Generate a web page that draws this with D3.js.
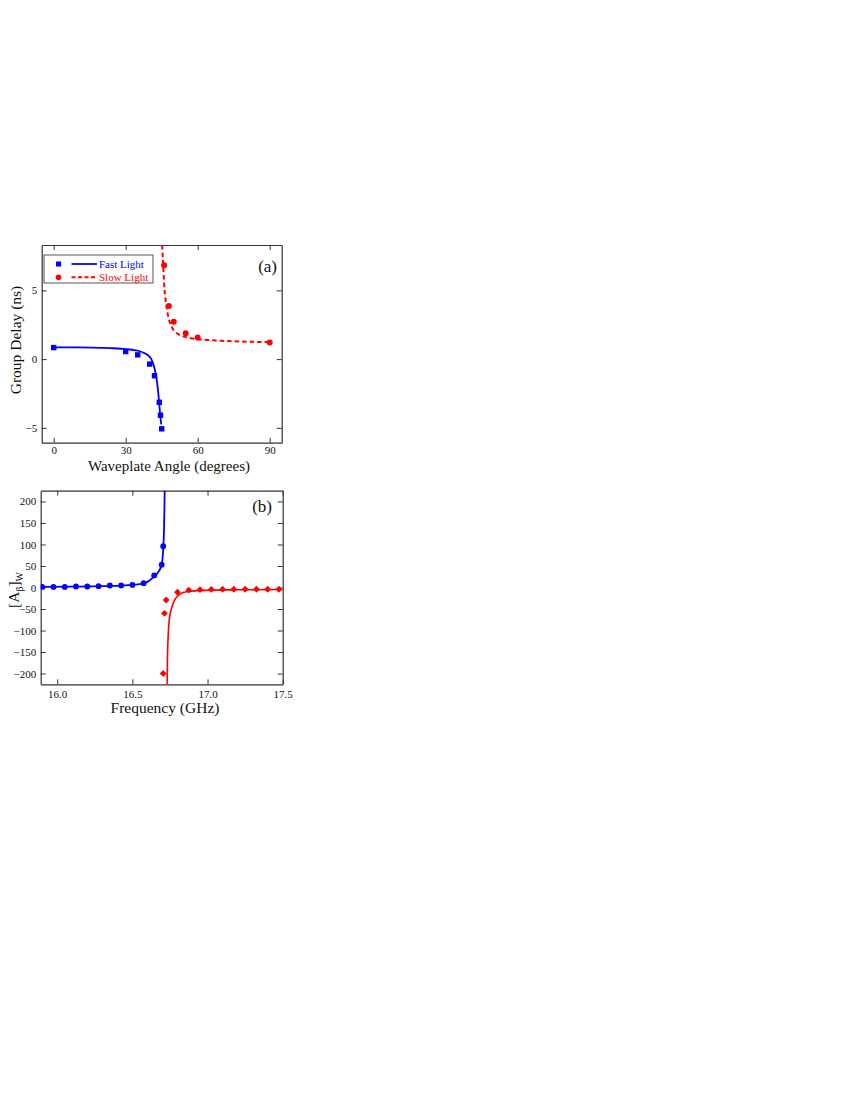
<!DOCTYPE html>
<html>
<head>
<meta charset="utf-8">
<script src="https://cdn.jsdelivr.net/npm/d3@7"></script>
<style>
  body { margin: 0; background: #fff; }
  svg { display: block; font-family: "Liberation Serif", "Times New Roman", serif; }
</style>
</head>
<body>
<svg id="chart" width="850" height="1100"></svg>
<script>
// Panel (a) data
const fastAngle = [0, 30, 35, 40, 42, 44, 44.5, 45]
const fastDelay = [0.84, 0.55, 0.31, -0.36, -1.21, -3.14, -4.08, -5.07]
const slowAngle = [46, 48, 50, 55, 60, 90]
const slowDelay = [6.83, 3.86, 2.72, 1.88, 1.57, 1.20]
const fastFitAngle = [0, 10, 20, 25, 30, 34, 37, 39, 40.5, 41.5, 42.3, 43, 43.6, 44, 44.4, 44.8]
const fastFitDelay = [0.86, 0.85, 0.82, 0.79, 0.73, 0.64, 0.5, 0.32, 0.05, -0.35, -0.9, -1.6, -2.5, -3.3, -4.1, -4.75]
const slowFitAngle = [45.2, 45.5, 45.8, 46.2, 46.7, 47.3, 48, 49, 50, 52, 54, 57, 60, 65, 70, 80, 90]
const slowFitDelay = [8.3, 7.2, 6.2, 5.0, 4.2, 3.5, 2.9, 2.4, 2.1, 1.8, 1.65, 1.52, 1.45, 1.38, 1.33, 1.27, 1.24]
const angleTicks = [0, 30, 60, 90]
const delayTicks = [-5, 0, 5]

// Panel (b) data
const blueFreq = [15.9, 15.975, 16.05, 16.125, 16.2, 16.275, 16.35, 16.425, 16.5, 16.575, 16.645, 16.695, 16.705]
const blueA = [1.4, 1.4, 1.4, 2.3, 2.3, 3, 4.7, 4.7, 6, 10, 28, 53, 96]
const redFreq = [16.705, 16.713, 16.725, 16.8, 16.875, 16.95, 17.025, 17.1, 17.175, 17.25, 17.325, 17.4, 17.475]
const redA = [-200, -60, -29, -11, -6, -5, -4.5, -4, -4, -4, -4, -4, -4]
const blueFitFreq = [15.9, 16.1, 16.3, 16.45, 16.55, 16.6, 16.64, 16.67, 16.69, 16.7, 16.705, 16.71, 16.713, 16.715]
const blueFitA = [1.5, 2, 3, 5, 8, 13, 24, 35, 48, 65, 90, 130, 180, 230]
const redFitFreq = [16.731, 16.733, 16.736, 16.745, 16.76, 16.78, 16.8, 16.83, 16.87, 16.95, 17.05, 17.2, 17.5]
const redFitA = [-230, -170, -130, -76, -49, -30, -20, -13, -9.5, -7, -6, -5.3, -4.8]
const freqTicks = [16.0, 16.5, 17.0, 17.5]
const aTicks = [-200, -150, -100, -50, 0, 50, 100, 150, 200]

const BLUE = "#0000ff"
const RED = "#ff0000"
const AXIS = "#333"

const svg = d3.select("#chart")
svg.append("rect").attr("width", 850).attr("height", 1100).attr("fill", "#fff")

function zip(xs, ys) { return xs.map((x, i) => [x, ys[i]]) }

function frame(g, x, y, xTicks, yTicks, xFmt, id, xPad) {
  const [x0, x1] = x.range()
  const [y0, y1] = y.range()
  g.append("clipPath").attr("id", id)
    .append("rect").attr("x", x0).attr("y", y1).attr("width", x1 - x0).attr("height", y0 - y1)

  const axes = [
    [d3.axisBottom(x).tickValues(xTicks).tickFormat(xFmt).tickPadding(xPad), `translate(0,${y0})`],
    [d3.axisTop(x).tickValues(xTicks).tickFormat(""), `translate(0,${y1})`],
    [d3.axisLeft(y).tickValues(yTicks).tickPadding(4.5), `translate(${x0},0)`],
    [d3.axisRight(y).tickValues(yTicks).tickFormat(""), `translate(${x1},0)`]
  ]
  axes.forEach(([ax, tr]) => {
    const a = g.append("g").attr("transform", tr)
      .call(ax.tickSizeInner(-5).tickSizeOuter(0))
    a.select(".domain").attr("stroke", AXIS).attr("stroke-width", 1.2)
    a.selectAll(".tick line").attr("stroke", AXIS).attr("stroke-width", 1)
    a.selectAll("text").attr("fill", "#111").attr("font-size", 11)
      .attr("font-family", "Liberation Serif, Times New Roman, serif")
  })
}

// ---------- Panel (a) ----------
const xa = d3.scaleLinear().domain([-5, 95]).range([41.7, 281.7])
const ya = d3.scaleLinear().domain([-6.08, 8.3]).range([442.7, 245])
const ga = svg.append("g")
frame(ga, xa, ya, angleTicks, delayTicks, d3.format("d"), "clipA", 3.5)

const lineA = d3.line().x(d => xa(d[0])).y(d => ya(d[1])).curve(d3.curveMonotoneX)
const plotA = ga.append("g").attr("clip-path", "url(#clipA)")
plotA.append("path").datum(zip(fastFitAngle, fastFitDelay))
  .attr("d", lineA).attr("fill", "none").attr("stroke", BLUE).attr("stroke-width", 1.8)
plotA.append("path").datum(zip(slowFitAngle, slowFitDelay))
  .attr("d", lineA).attr("fill", "none").attr("stroke", RED).attr("stroke-width", 2)
  .attr("stroke-dasharray", "4.5,3")
plotA.selectAll("rect.fast").data(zip(fastAngle, fastDelay)).enter()
  .append("rect").attr("class", "fast")
  .attr("x", d => xa(d[0]) - 2.7).attr("y", d => ya(d[1]) - 2.7)
  .attr("width", 5.4).attr("height", 5.4).attr("fill", BLUE)
plotA.selectAll("circle.slow").data(zip(slowAngle, slowDelay)).enter()
  .append("circle").attr("class", "slow")
  .attr("cx", d => xa(d[0])).attr("cy", d => ya(d[1])).attr("r", 3).attr("fill", RED)

// legend
const leg = ga.append("g")
leg.append("rect").attr("x", 44).attr("y", 255).attr("width", 109).attr("height", 28)
  .attr("fill", "#fff").attr("stroke", "#555").attr("stroke-width", 1)
leg.append("rect").attr("x", 56).attr("y", 261.5).attr("width", 5).attr("height", 5).attr("fill", BLUE)
leg.append("line").attr("x1", 71.5).attr("x2", 97).attr("y1", 264).attr("y2", 264)
  .attr("stroke", BLUE).attr("stroke-width", 1.8)
leg.append("text").attr("x", 99).attr("y", 267.8).attr("font-size", 11).attr("fill", BLUE).text("Fast Light")
leg.append("circle").attr("cx", 58.5).attr("cy", 277.3).attr("r", 2.8).attr("fill", RED)
leg.append("line").attr("x1", 71.5).attr("x2", 97).attr("y1", 277.3).attr("y2", 277.3)
  .attr("stroke", RED).attr("stroke-width", 2).attr("stroke-dasharray", "4,2.5")
leg.append("text").attr("x", 99).attr("y", 281).attr("font-size", 11).attr("fill", RED).text("Slow Light")

ga.append("text").attr("x", 277).attr("y", 272).attr("text-anchor", "end")
  .attr("font-size", 17).attr("fill", "#111").text("(a)")
ga.append("text").attr("x", 169).attr("y", 470.5).attr("text-anchor", "middle")
  .attr("font-size", 15).attr("fill", "#111").text("Waveplate Angle (degrees)")
ga.append("text").attr("transform", "translate(21,340) rotate(-90)").attr("text-anchor", "middle")
  .attr("font-size", 15.5).attr("fill", "#111").text("Group Delay (ns)")

// ---------- Panel (b) ----------
const xb = d3.scaleLinear().domain([15.89, 17.5]).range([40.7, 282.7])
const yb = d3.scaleLinear().domain([-225, 225]).range([684.3, 490.7])
const gb = svg.append("g")
frame(gb, xb, yb, freqTicks, aTicks, d3.format(".1f"), "clipB", 5.5)

const lineB = d3.line().x(d => xb(d[0])).y(d => yb(d[1])).curve(d3.curveMonotoneX)
const plotB = gb.append("g").attr("clip-path", "url(#clipB)")
plotB.append("path").datum(zip(blueFitFreq, blueFitA))
  .attr("d", lineB).attr("fill", "none").attr("stroke", BLUE).attr("stroke-width", 1.8)
plotB.append("path").datum(zip(redFitFreq, redFitA))
  .attr("d", lineB).attr("fill", "none").attr("stroke", RED).attr("stroke-width", 1.6)
plotB.selectAll("circle.blue").data(zip(blueFreq, blueA)).enter()
  .append("circle").attr("class", "blue")
  .attr("cx", d => xb(d[0])).attr("cy", d => yb(d[1])).attr("r", 2.9).attr("fill", BLUE)
plotB.selectAll("path.red").data(zip(redFreq, redA)).enter()
  .append("path").attr("class", "red")
  .attr("d", d3.symbol(d3.symbolDiamond2, 30))
  .attr("transform", d => `translate(${xb(d[0])},${yb(d[1])})`).attr("fill", RED)

gb.append("text").attr("x", 272).attr("y", 512).attr("text-anchor", "end")
  .attr("font-size", 17).attr("fill", "#111").text("(b)")
gb.append("text").attr("x", 165).attr("y", 713).attr("text-anchor", "middle")
  .attr("font-size", 15.5).attr("fill", "#111").text("Frequency (GHz)")
const yt = gb.append("text").attr("transform", "translate(19,590) rotate(-90)")
  .attr("text-anchor", "middle").attr("font-size", 15.5).attr("fill", "#111")
yt.append("tspan").text("[A")
yt.append("tspan").attr("font-size", 10).attr("dy", 4).text("β")
yt.append("tspan").attr("dy", -4).text("]")
yt.append("tspan").attr("font-size", 10).attr("dy", 4).text("W")
</script>
</body>
</html>
